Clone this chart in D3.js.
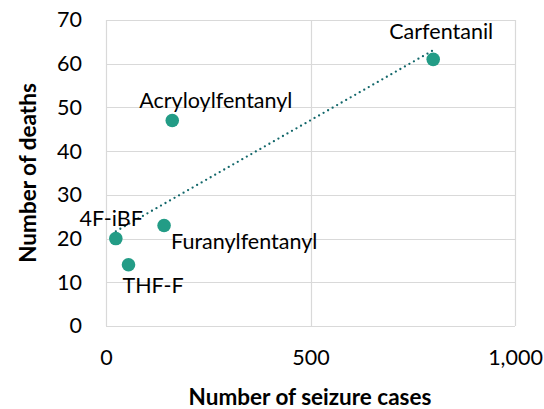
<!DOCTYPE html>
<html>
<head>
<meta charset="utf-8">
<script src="https://cdn.jsdelivr.net/npm/d3@7"></script>
<style>
  html, body { margin: 0; padding: 0; background: #fff; }
  svg text { font-family: Lato, "Open Sans", sans-serif; fill: #000; }
</style>
</head>
<body>
<svg id="chart" width="544" height="409"></svg>
<script>
// Substances, seizure cases and deaths
const substances = ["Carfentanil", "Acryloylfentanyl", "4F-iBF", "THF-F", "Furanylfentanyl"];
const seizureCases = [800, 162, 24, 55, 142];
const deaths = [61, 47, 20, 14, 23];

const xTicks = [0, 500, 1000];
const yTicks = [0, 10, 20, 30, 40, 50, 60, 70];

// label offsets relative to each point (anchor, dx, dy)
const labelPlacement = [
  { anchor: "middle", dx: 8, dy: -20 },
  { anchor: "start", dx: -33, dy: -13 },
  { anchor: "end", dx: 27, dy: -13 },
  { anchor: "start", dx: -6, dy: 28 },
  { anchor: "start", dx: 7, dy: 24 }
];

const svg = d3.select("#chart");
const margin = { left: 106, right: 29, top: 20, bottom: 83 };
const W = 544, H = 409;
const fontSize = 21.5;

const x = d3.scaleLinear().domain([0, 1000]).range([margin.left, W - margin.right]);
const y = d3.scaleLinear().domain([0, 70]).range([H - margin.bottom, margin.top]);

const gridColor = "#d9d9d9";

// horizontal gridlines
svg.append("g")
  .selectAll("line").data(yTicks).join("line")
  .attr("x1", x(0)).attr("x2", x(1000))
  .attr("y1", d => Math.round(y(d)) + 0.5).attr("y2", d => Math.round(y(d)) + 0.5)
  .attr("stroke", gridColor).attr("stroke-width", 1.2);

// vertical gridlines
svg.append("g")
  .selectAll("line").data(xTicks).join("line")
  .attr("x1", d => Math.round(x(d)) + 0.5).attr("x2", d => Math.round(x(d)) + 0.5)
  .attr("y1", y(0)).attr("y2", y(70))
  .attr("stroke", gridColor).attr("stroke-width", 1.2);

// y axis labels
const yAxis = d3.axisLeft(y).tickValues(yTicks).tickSize(0).tickPadding(0);
svg.append("g")
  .attr("transform", `translate(${margin.left - 24},0)`)
  .call(yAxis)
  .call(g => g.select(".domain").remove())
  .call(g => g.selectAll("text")
    .attr("font-family", "Lato, sans-serif")
    .attr("font-size", fontSize).attr("fill", "#000"));

// x axis labels
const xAxis = d3.axisBottom(x).tickValues(xTicks).tickSize(0).tickPadding(0)
  .tickFormat(d3.format(","));
svg.append("g")
  .attr("transform", `translate(0,${y(0) + 24})`)
  .call(xAxis)
  .call(g => g.select(".domain").remove())
  .call(g => g.selectAll("text")
    .attr("font-family", "Lato, sans-serif")
    .attr("font-size", fontSize).attr("fill", "#000"));

// axis titles
svg.append("text")
  .attr("x", 310).attr("y", 405)
  .attr("text-anchor", "middle")
  .attr("font-size", 22.5).attr("font-weight", "bold")
  .text("Number of seizure cases");

svg.append("text")
  .attr("transform", `translate(36,${(y(0) + y(70)) / 2}) rotate(-90)`)
  .attr("text-anchor", "middle")
  .attr("font-size", 22.5).attr("font-weight", "bold")
  .text("Number of deaths");

// linear trend line (least squares)
const n = seizureCases.length;
const mx = d3.mean(seizureCases), my = d3.mean(deaths);
let sxy = 0, sxx = 0;
for (let i = 0; i < n; i++) {
  sxy += (seizureCases[i] - mx) * (deaths[i] - my);
  sxx += (seizureCases[i] - mx) ** 2;
}
const slope = sxy / sxx;
const intercept = my - slope * mx;
const [xmin, xmax] = d3.extent(seizureCases);

svg.append("line")
  .attr("x1", x(xmin)).attr("y1", y(intercept + slope * xmin))
  .attr("x2", x(xmax)).attr("y2", y(intercept + slope * xmax))
  .attr("stroke", "#12676a")
  .attr("stroke-width", 2.3)
  .attr("stroke-linecap", "round")
  .attr("stroke-dasharray", "0 5.2");

// points
svg.append("g")
  .selectAll("circle").data(substances).join("circle")
  .attr("cx", (d, i) => x(seizureCases[i]))
  .attr("cy", (d, i) => y(deaths[i]))
  .attr("r", 6.8)
  .attr("fill", "#239c86");

// point labels
svg.append("g")
  .selectAll("text").data(substances).join("text")
  .attr("x", (d, i) => x(seizureCases[i]) + labelPlacement[i].dx)
  .attr("y", (d, i) => y(deaths[i]) + labelPlacement[i].dy)
  .attr("text-anchor", (d, i) => labelPlacement[i].anchor)
  .attr("font-size", fontSize)
  .text(d => d);
</script>
</body>
</html>
